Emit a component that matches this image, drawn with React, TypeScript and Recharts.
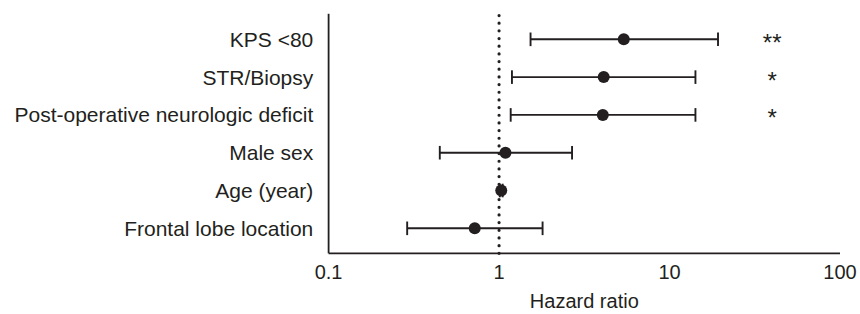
import React from 'react';
import { ScatterChart, Scatter, XAxis, YAxis, ErrorBar, ReferenceLine } from 'recharts';

const categories = [
  'Frontal lobe location',
  'Age (year)',
  'Male sex',
  'Post-operative neurologic deficit',
  'STR/Biopsy',
  'KPS <80',
];
const hazardRatios = [0.72, 1.03, 1.09, 4.06, 4.11, 5.39];
const ciLower = [0.289, 1.01, 0.449, 1.17, 1.19, 1.53];
const ciUpper = [1.8, 1.05, 2.68, 14.19, 14.19, 19.25];
const significance = ['', '', '', '*', '*', '**'];
const xTicks = [0.1, 1, 10, 100];
const rowTicks = [1, 2, 3, 4, 5, 6];
const sigPosition = 40;

const INK = '#231f20';
const FONT = '"Liberation Sans", Arial, Helvetica, sans-serif';

const rows = categories.map((name, i) => ({
  name,
  row: i + 1,
  hr: hazardRatios[i],
  err: [hazardRatios[i] - ciLower[i], ciUpper[i] - hazardRatios[i]],
}));

const sigRows = categories
  .map((name, i) => ({ name, row: i + 1, hr: sigPosition, label: significance[i] }))
  .filter((d) => d.label !== '');

const Dot = (props: any) => {
  const { cx, cy } = props;
  if (cx == null || cy == null) return null;
  return <circle cx={cx} cy={cy} r={6} fill={INK} />;
};

const Star = (props: any) => {
  const { cx, cy, payload } = props;
  if (cx == null || cy == null) return null;
  return (
    <text x={cx} y={cy + 11.5} textAnchor="middle" fontSize={24} fontFamily={FONT} fill={INK}>
      {payload.label}
    </text>
  );
};

export default function App() {
  return (
    <div style={{ position: 'absolute', left: 0, top: 0, background: '#fff' }}>
      <ScatterChart
        width={860}
        height={314}
        margin={{ top: 13.8, right: 20, bottom: 0, left: 0 }}
        style={{ fontFamily: FONT }}
      >
        <XAxis
          type="number"
          dataKey="hr"
          scale="log"
          domain={[0.1, 100]}
          ticks={xTicks}
          allowDataOverflow
          tickFormatter={(v: number) => String(v)}
          axisLine={{ stroke: INK, strokeWidth: 1.8 }}
          tickLine={false}
          tickSize={6}
          tickMargin={5.7}
          height={60.7}
          tick={{ fill: INK, fontSize: 20, fontFamily: FONT }}
          label={{ value: 'Hazard ratio', position: 'insideBottom', offset: 6, fill: INK, fontSize: 20, fontFamily: FONT }}
        />
        <YAxis
          type="number"
          dataKey="row"
          domain={[0.339, 6.675]}
          ticks={rowTicks}
          allowDataOverflow
          tickFormatter={(v: number) => categories[v - 1] ?? ''}
          axisLine={{ stroke: INK, strokeWidth: 1.8 }}
          tickLine={false}
          tickSize={6}
          tickMargin={9.3}
          width={328.6}
          interval={0}
          tick={{ fill: INK, fontSize: 21, fontFamily: FONT }}
        />
        <ReferenceLine
          x={1}
          stroke={INK}
          strokeWidth={3.2}
          strokeDasharray="0 7.67"
          strokeLinecap="round"
          ifOverflow="visible"
        />
        <Scatter data={rows} fill={INK} shape={Dot} isAnimationActive={false}>
          <ErrorBar dataKey="err" direction="x" width={6.8} stroke={INK} strokeWidth={1.9} />
        </Scatter>
        <Scatter data={sigRows} fill={INK} shape={Star} isAnimationActive={false} />
      </ScatterChart>
    </div>
  );
}
